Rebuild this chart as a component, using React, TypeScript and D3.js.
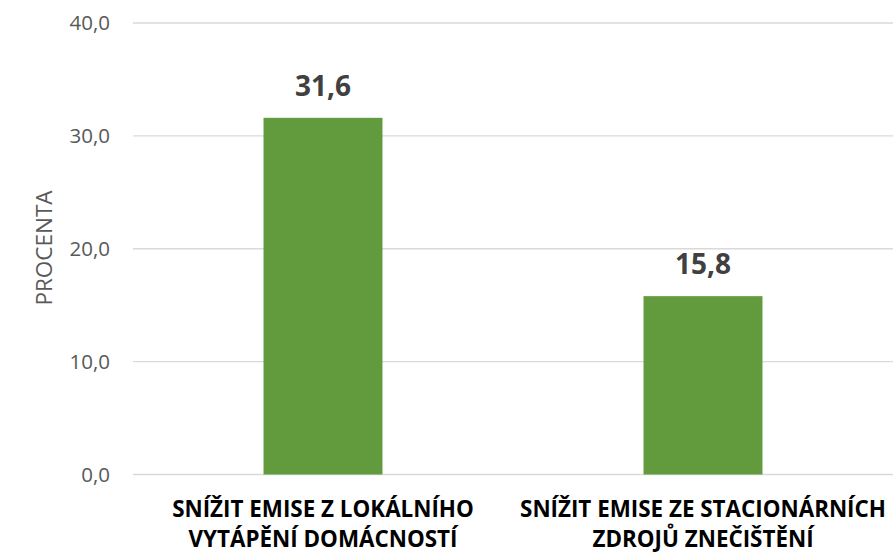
import React from "react";
import * as d3 from "d3";

const categories: string[][] = [
  ["SNÍŽIT EMISE Z LOKÁLNÍHO", "VYTÁPĚNÍ DOMÁCNOSTÍ"],
  ["SNÍŽIT EMISE ZE STACIONÁRNÍCH", "ZDROJŮ ZNEČIŠTĚNÍ"],
];
const values: number[] = [31.6, 15.8];
const yTicks: number[] = [0, 10, 20, 30, 40];
const yTitle = "PROCENTA";

const W = 893;
const H = 556;
const fmt = (v: number) => v.toFixed(1).replace(".", ",");

export default function App() {
  const x = d3
    .scaleBand<number>()
    .domain(values.map((_, i) => i))
    .range([133, 893])
    .padding(0);
  const y = d3.scaleLinear().domain([0, 40]).range([474.5, 23]);
  const barW = x.bandwidth() * 0.313;

  return (
    <svg
      width={W}
      height={H}
      style={{ position: "absolute", left: 0, top: 0, display: "block" }}
    >
      <rect width={W} height={H} fill="#ffffff" />
      {yTicks.map((t) => (
        <g key={t}>
          <line
            x1={133}
            x2={893}
            y1={y(t)}
            y2={y(t)}
            stroke="#d9d9d9"
            strokeWidth={1.3}
          />
          <text
            x={110}
            y={y(t)}
            dy="0.36em"
            textAnchor="end"
            fontFamily="Open Sans"
            fontSize={20.5}
            fill="#595959"
          >
            {fmt(t)}
          </text>
        </g>
      ))}
      <text
        transform={`translate(52,248) rotate(-90)`}
        textAnchor="middle"
        fontFamily="Open Sans"
        fontSize={22.5}
        fill="#595959"
      >
        {yTitle}
      </text>
      {values.map((v, i) => {
        const cx = (x(i) as number) + x.bandwidth() / 2;
        return (
          <g key={i}>
            <rect
              x={cx - barW / 2}
              y={y(v)}
              width={barW}
              height={y(0) - y(v)}
              fill="#629a3e"
            />
            <text
              x={cx}
              y={y(v) - 22}
              textAnchor="middle"
              fontFamily="Open Sans"
              fontWeight="bold"
              fontSize={28}
              fill="#404040"
            >
              {fmt(v)}
            </text>
            {categories[i].map((line, j) => (
              <text
                key={j}
                x={cx}
                y={517 + j * 30}
                textAnchor="middle"
                fontFamily="Open Sans"
                fontWeight="bold"
                fontSize={22.4}
                fill="#000000"
              >
                {line}
              </text>
            ))}
          </g>
        );
      })}
    </svg>
  );
}
